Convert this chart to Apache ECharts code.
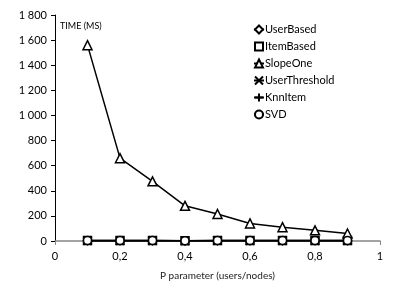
<!DOCTYPE html>
<html><head><meta charset="utf-8">
<script src="https://cdn.jsdelivr.net/npm/echarts@6/dist/echarts.min.js"></script>
<style>html,body{margin:0;padding:0;background:#fff}#c{width:415px;height:294px}</style>
</head><body><div id="c"></div>
<script>
const pValues = [0.1, 0.2, 0.3, 0.4, 0.5, 0.6, 0.7, 0.8, 0.9];
const userBased = [2, 2, 2, 1, 2, 2, 2, 2, 2];
const itemBased = [3, 3, 3, 2, 3, 3, 3, 4, 4];
const slopeOne = [1560, 660, 475, 280, 215, 140, 110, 85, 60];
const userThreshold = [1, 1, 1, 1, 1, 1, 1, 1, 1];
const knnItem = [2, 2, 2, 2, 2, 2, 2, 2, 2];
const svd = [3, 3, 3, 2, 3, 3, 3, 3, 3];
const seriesNames = ['UserBased','ItemBased','SlopeOne','UserThreshold','KnnItem','SVD'];

const xPath = 'path://M0,0 L10,10 M10,0 L0,10';
const plusPath = 'path://M5,0 L5,10 M0,5 L10,5';
const symbols = ['diamond','rect','triangle', xPath, plusPath, 'circle'];
const dataSets = [userBased, itemBased, slopeOne, userThreshold, knnItem, svd];
const font = 'Lato, "Open Sans", sans-serif';

const chart = echarts.init(document.getElementById('c'));
chart.setOption({
  animation: false,
  grid: {left: 55, right: 35, top: 15, bottom: 53},
  legend: {
    orient: 'vertical', left: 248, top: 19, itemGap: 6, itemWidth: 10, itemHeight: 10,
    textStyle: {fontFamily: font, fontSize: 11, color: '#000', padding: [0,0,0,-4]},
    data: seriesNames
  },
  xAxis: {
    type: 'value', min: 0, max: 1, interval: 0.2,
    name: 'P parameter (users/nodes)', nameLocation: 'middle', nameGap: 30,
    nameTextStyle: {fontFamily: font, fontSize: 10, color: '#222'},
    axisLine: {lineStyle: {color: '#868686', width: 1.5}},
    axisTick: {show: true, length: 4, lineStyle: {color: '#868686'}},
    axisLabel: {fontFamily: font, fontSize: 11, color: '#000', margin: 10,
      formatter: v => String(Math.round(v*10)/10).replace('.', ',')},
    splitLine: {show: false}
  },
  yAxis: {
    type: 'value', min: 0, max: 1800, interval: 200,
    axisLine: {show: true, lineStyle: {color: '#000', width: 1}},
    axisTick: {show: true, length: 4, lineStyle: {color: '#000'}},
    axisLabel: {fontFamily: font, fontSize: 11, color: '#000', margin: 8,
      formatter: v => String(v).replace(/\B(?=(\d{3})+(?!\d))/g, ' ')},
    splitLine: {show: false}
  },
  graphic: [{type: 'text', left: 60, top: 22,
    style: {text: 'TIME (MS)', fontFamily: font, fontSize: 9, fill: '#000'}}],
  series: seriesNames.map((n, i) => ({
    name: n, type: 'line',
    data: pValues.map((p, j) => [p, dataSets[i][j]]),
    symbol: symbols[i], symbolSize: i === 2 ? 9 : 8,
    lineStyle: {color: '#000', width: 1.5},
    itemStyle: {color: '#fff', borderColor: '#000', borderWidth: 1.5},
    z: 2 + i
  }))
});
</script></body></html>
